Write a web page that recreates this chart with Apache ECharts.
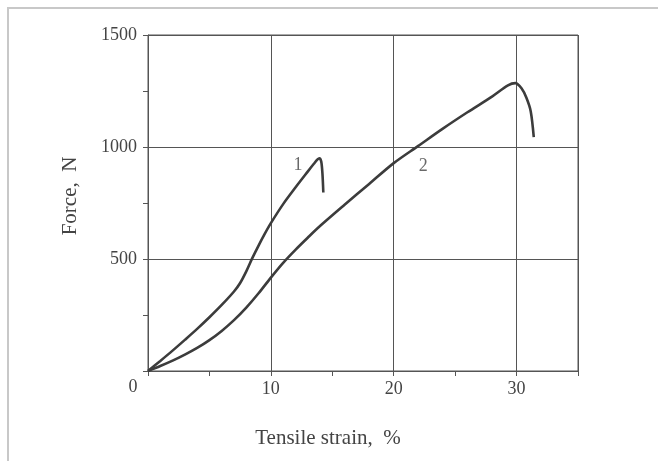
<!DOCTYPE html>
<html>
<head>
<meta charset="utf-8">
<script src="https://cdn.jsdelivr.net/npm/echarts@6/dist/echarts.min.js"></script>
<style>
  html, body { margin: 0; padding: 0; background: #fff; }
  #chart { width: 658px; height: 461px; }
</style>
</head>
<body>
<div id="chart"></div>
<script>
// curve 1
var strain1 = [0, 1, 2, 3, 4, 5, 6, 7, 7.5, 8, 8.5, 9, 9.5, 10, 11, 12, 13, 13.5, 13.8, 13.95, 14.1, 14.2, 14.27];
var force1 = [0, 45, 91, 139, 188, 240, 295, 355, 393, 445, 505, 560, 612, 660, 745, 819, 890, 925, 945, 950, 935, 880, 797];
// curve 2
var strain2 = [0, 1, 2, 3, 4, 5, 6, 7, 8, 9, 10, 11, 12, 13, 14, 16, 18, 20, 22, 24, 26, 28, 29.3, 29.9, 30.4, 30.8, 31.15, 31.4];
var force2 = [0, 22, 46, 73, 103, 138, 179, 227, 283, 347, 417, 483, 541, 595, 647, 742, 835, 928, 1005, 1082, 1155, 1225, 1275, 1285, 1262, 1220, 1160, 1044];
// curve labels
var curveNames = ['1', '2'];
var labelPos = [[12.2, 920], [22.4, 912]];
var xTicks = [10, 20, 30];
var yTicks = [500, 1000, 1500];

var serif = 'Liberation Serif';
var ink = '#444';
var gridInk = '#555';

function pairs(xs, ys) {
    var out = [];
    for (var i = 0; i < xs.length; i++) {
        out.push([xs[i], ys[i]]);
    }
    return out;
}

var myChart = echarts.init(document.getElementById('chart'));
var option = {
    backgroundColor: '#fff',
    animation: false,
    grid: {
        left: 148,
        top: 35,
        right: 80,
        bottom: 90,
        show: true,
        borderColor: gridInk,
        borderWidth: 1
    },
    xAxis: {
        type: 'value',
        min: 0,
        max: 35,
        interval: 10,
        axisLine: { lineStyle: { color: gridInk, width: 1 } },
        axisTick: { show: true, length: 5, lineStyle: { color: gridInk } },
        minorTick: { show: true, splitNumber: 2, length: 5, lineStyle: { color: gridInk } },
        splitLine: { show: true, lineStyle: { color: gridInk, width: 1 } },
        axisLabel: {
            color: ink,
            fontFamily: serif,
            fontSize: 18,
            margin: 9,
            formatter: function (v) { return xTicks.indexOf(v) >= 0 ? String(v) : ''; }
        }
    },
    yAxis: {
        type: 'value',
        min: 0,
        max: 1500,
        interval: 500,
        axisLine: { show: true, lineStyle: { color: gridInk, width: 1 } },
        axisTick: { show: true, length: 5, lineStyle: { color: gridInk } },
        minorTick: { show: true, splitNumber: 2, length: 5, lineStyle: { color: gridInk } },
        splitLine: { show: true, lineStyle: { color: gridInk, width: 1 } },
        axisLabel: {
            color: ink,
            fontFamily: serif,
            fontSize: 18,
            margin: 11,
            formatter: function (v) { return yTicks.indexOf(v) >= 0 ? String(v) : ''; }
        }
    },
    graphic: [
        {
            type: 'rect',
            shape: { x: 8, y: 8, width: 700, height: 500 },
            style: { fill: 'none', stroke: '#c8c8c8', lineWidth: 2 },
            silent: true
        },
        {
            type: 'text',
            x: 133,
            y: 387,
            style: {
                text: '0',
                fontFamily: serif,
                fontSize: 18,
                fill: ink,
                align: 'center',
                verticalAlign: 'middle'
            }
        },
        {
            type: 'text',
            x: 328,
            y: 438,
            style: {
                text: 'Tensile strain,  %',
                fontFamily: serif,
                fontSize: 21,
                fill: ink,
                align: 'center',
                verticalAlign: 'middle'
            }
        },
        {
            type: 'text',
            x: 70,
            y: 196,
            rotation: Math.PI / 2,
            style: {
                text: 'Force,  N',
                fontFamily: serif,
                fontSize: 21,
                fill: ink,
                align: 'center',
                verticalAlign: 'middle'
            }
        }
    ],
    series: [
        {
            name: curveNames[0],
            type: 'line',
            smooth: 0.3,
            showSymbol: false,
            lineStyle: { color: '#3c3c3c', width: 2.6 },
            data: pairs(strain1, force1),
            z: 5
        },
        {
            name: curveNames[1],
            type: 'line',
            smooth: 0.3,
            showSymbol: false,
            lineStyle: { color: '#3c3c3c', width: 2.6 },
            data: pairs(strain2, force2),
            z: 5
        },
        {
            type: 'scatter',
            symbolSize: 0,
            silent: true,
            label: {
                show: true,
                position: 'inside',
                color: ink,
                fontFamily: serif,
                fontSize: 18,
                formatter: function (p) { return curveNames[p.dataIndex]; }
            },
            data: labelPos
        }
    ]
};
myChart.setOption(option);
</script>
</body>
</html>
